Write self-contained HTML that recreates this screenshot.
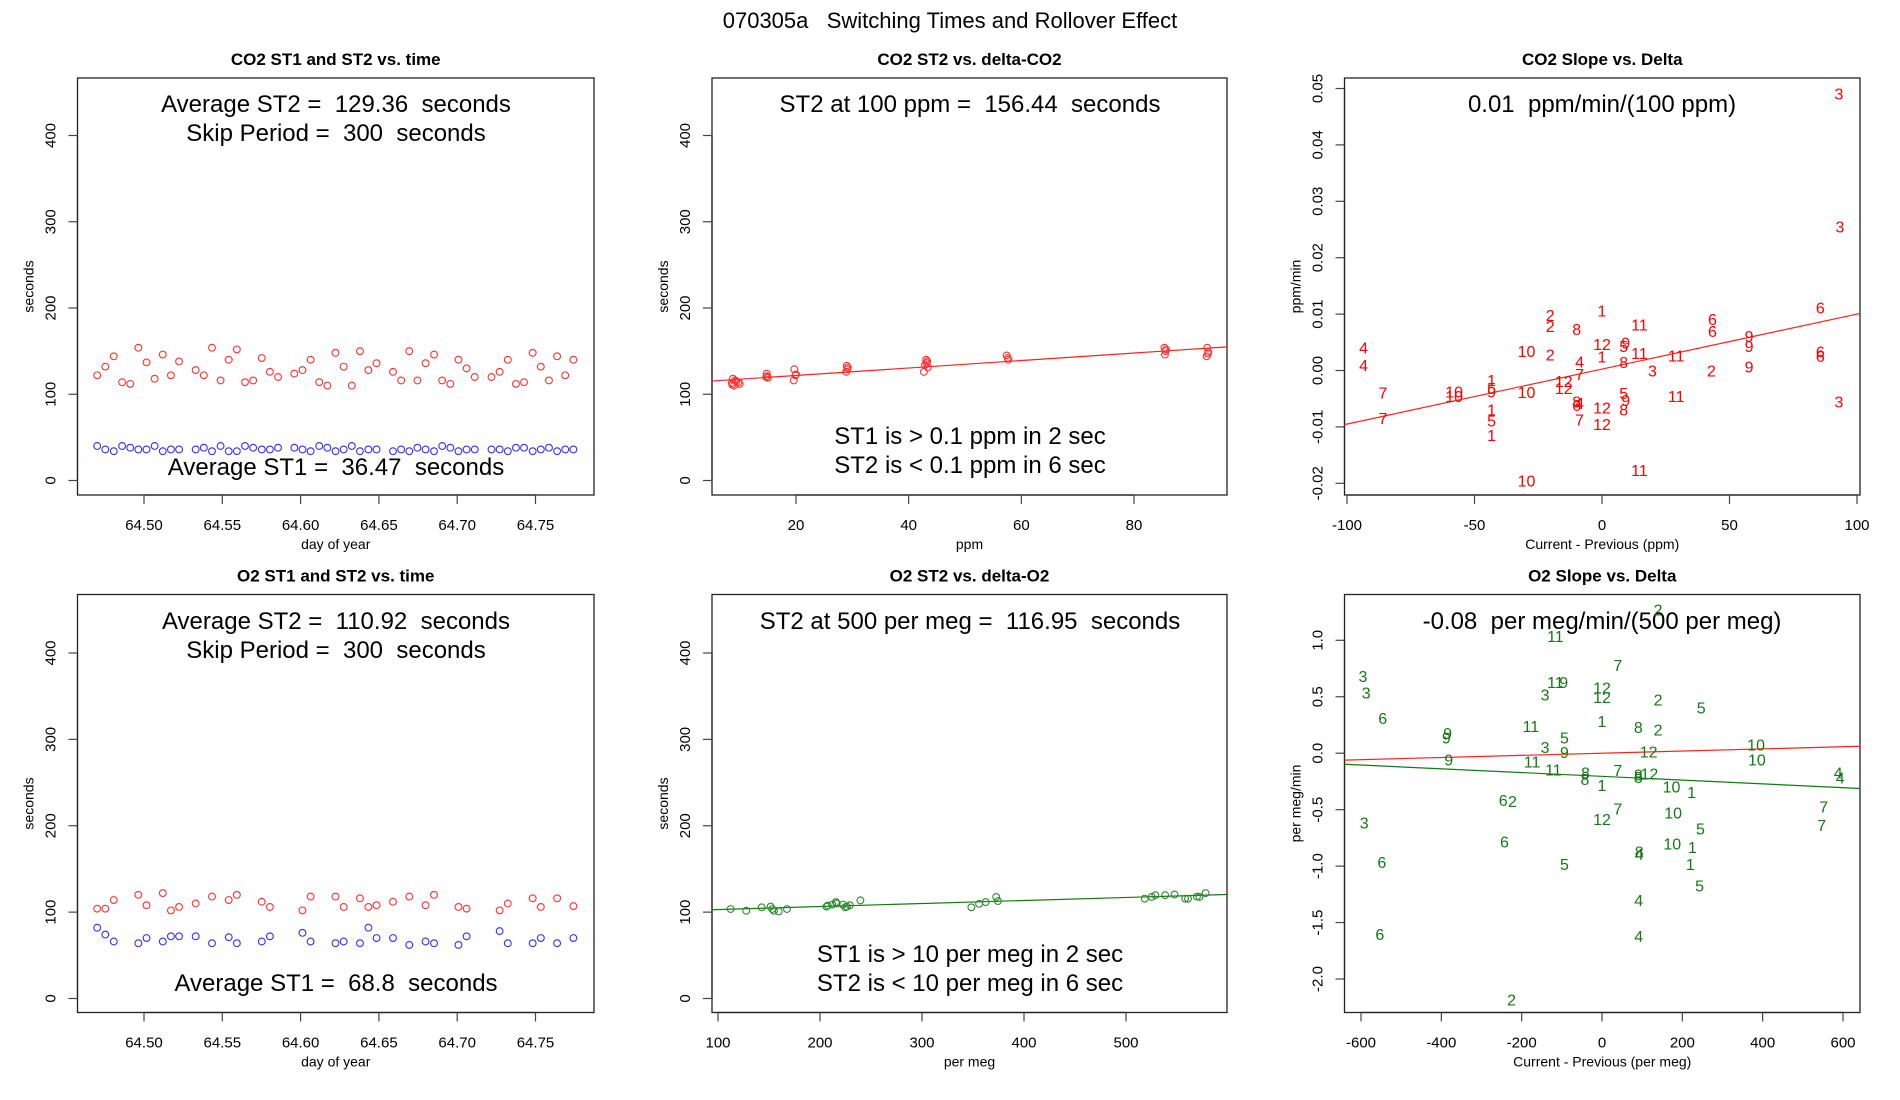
<!DOCTYPE html>
<html><head><meta charset="utf-8"><title>070305a Switching Times and Rollover Effect</title>
<style>
html,body{margin:0;padding:0;background:#fff;}
svg{display:block;font-family:"Liberation Sans",Arial,sans-serif;}
svg text{white-space:pre;}
</style></head>
<body>
<svg id="fig" width="1900" height="1100" viewBox="0 0 1900 1100" xmlns="http://www.w3.org/2000/svg">
<rect x="0" y="0" width="1900" height="1100" fill="#fff"/>
<text x="950" y="28" font-size="22" text-anchor="middle">070305a   Switching Times and Rollover Effect</text>
</svg>
<script>
// ---- Panel 1: CO2 ST1/ST2 vs time ----
const co2Time = [64.4701,64.4753,64.4807,64.4860,64.4912,64.4964,64.5016,64.5068,64.5120,64.5172,64.5224,64.5330,64.5382,64.5434,64.5489,64.5541,64.5593,64.5645,64.5697,64.5752,64.5804,64.5856,64.5960,64.6012,64.6064,64.6119,64.6171,64.6223,64.6275,64.6327,64.6379,64.6433,64.6485,64.6590,64.6642,64.6694,64.6746,64.6798,64.6852,64.6904,64.6956,64.7008,64.7060,64.7112,64.7219,64.7271,64.7323,64.7375,64.7427,64.7482,64.7534,64.7586,64.7638,64.7690,64.7742];
const co2ST2 = [122,132,144,114,112,154,137,118,146,122,138,128,122,154,116,140,152,114,116,142,126,120,124,128,140,114,110,148,132,110,150,128,136,126,116,150,116,136,146,116,112,140,130,120,120,126,140,112,114,148,132,116,144,122,140];
const co2ST1 = [40,36,34,40,38,36,36,40,34,36,36,36,38,34,40,34,34,40,38,36,36,38,38,36,34,40,38,34,36,40,34,36,36,34,36,34,38,36,34,40,38,34,36,36,36,36,34,38,38,34,36,38,34,36,36];
// ---- Panel 4: O2 ST1/ST2 vs time ----
const o2Time = [64.4701,64.4753,64.4807,64.4964,64.5016,64.5120,64.5172,64.5224,64.5330,64.5434,64.5541,64.5593,64.5752,64.5804,64.6012,64.6064,64.6223,64.6275,64.6379,64.6433,64.6485,64.6590,64.6694,64.6798,64.6852,64.7008,64.7060,64.7271,64.7323,64.7482,64.7534,64.7638,64.7742];
const o2ST2 = [104,104,114,120,108,122,102,106,110,118,114,120,112,106,102,118,118,106,116,106,108,112,118,108,120,106,104,102,110,116,106,116,107];
const o2ST1 = [82,74,66,64,70,66,72,72,72,64,71,64,66,72,76,66,64,66,64,82,70,70,62,66,64,62,72,78,64,64,70,64,70];
// ---- Panel 2: CO2 ST2 vs delta ----
const co2Delta = [8.6,8.8,9.0,9.2,9.8,10.0,9.4,8.7,14.8,14.9,15.0,14.7,19.7,19.9,19.6,20.0,29.0,29.1,28.9,29.2,43.1,43.3,42.9,43.4,42.7,43.2,57.4,57.6,57.7,85.4,85.6,85.5,85.7,93.0,93.2,92.9,93.1];
const co2DeltaST2 = [113,118,110,116,114,112,115,111,124,121,119,120,129,122,116,123,133,129,126,131,140,138,134,131,126,136,145,142,140,154,150,146,152,154,149,144,147];
const co2FitCoef = [113.1,0.4334];
// ---- Panel 5: O2 ST2 vs delta ----
const o2Delta = [112.4,127.6,142.8,151.6,153.2,154.8,159.6,167.6,206.4,207.6,212,215.6,216.4,222.4,224.8,226.4,229.2,239.6,348.4,356,362.4,372.8,374.4,518.4,525.2,528.8,538.4,547.6,558,560.8,569.6,572,578];
const o2DeltaST2 = [103.6,101.6,105.6,106.4,103.6,101.6,100.8,103.6,106.4,107.6,108.8,111.6,110,108.8,105.6,106.4,108,113.6,105.6,109.6,111.6,117.6,112.8,115.6,117.6,119.6,119.6,120.4,115.6,115.6,118,117.6,122];
const o2FitCoef = [99.5,0.0349];
// ---- Panel 3: CO2 slope vs delta ----
const co2SlopeLabels = ["3","3","6","6","11","2","2","1","8","6","9","12","9","5","9","4","10","11","11","2","1","6","6","4","8","4","9","3","2","7","1","12","12","5","9","10","10","10","7","5","11","9","8","4","6","3","12","8","1","7","7","5","12","1","11","10"];
const co2SlopeX = [92.9,93.3,85.6,43.3,14.7,-20.3,-20.3,0,-9.9,43.3,57.7,0,9.3,8.5,57.7,-93.5,-29.6,14.7,29.1,-20.3,0,85.6,85.6,-8.8,8.5,-93.5,57.7,19.8,42.9,-8.8,-43.3,-15,-15,-43.3,-43.3,-58,-58,-29.6,-85.9,8.5,29.1,9.3,-9.9,-8.8,-9.9,92.9,0,8.5,-43.3,-85.9,-8.8,-43.3,0,-43.3,14.7,-29.6];
const co2SlopeY = [0.0491,0.0255,0.0112,0.0091,0.0082,0.0098,0.0079,0.0106,0.0074,0.0070,0.0061,0.0047,0.0050,0.0043,0.0043,0.0041,0.0035,0.0031,0.0027,0.0028,0.0025,0.0034,0.0026,0.0016,0.0015,0.0010,0.0007,0.0,0.0,-0.0006,-0.0017,-0.0019,-0.0031,-0.0031,-0.0037,-0.0037,-0.0045,-0.0038,-0.0039,-0.0040,-0.0045,-0.0052,-0.0055,-0.0058,-0.0061,-0.0055,-0.0066,-0.0069,-0.0069,-0.0084,-0.0087,-0.0089,-0.0095,-0.0114,-0.0176,-0.0195];
const co2SlopeFit = [0.00025,0.0000975];
// ---- Panel 6: O2 slope vs delta ----
const o2SlopeLabels = ["2","11","7","3","11","9","12","3","3","12","2","5","6","1","11","8","2","9","9","5","3","10","12","9","9","10","11","11","8","7","4","8","12","4","8","8","1","10","1","6","2","7","7","10","12","3","7","5","6","10","1","8","4","6","5","1","5","4","4","6","2"];
const o2SlopeX = [139.7,-116,39.3,-595,-116,-95.4,0,-587,-141.6,0,139.7,246.9,-546,0,-177,90.5,139.7,-384.6,-387.5,-93.4,-141.6,383.6,116,-93.4,-381.6,385.6,-174,-121,-41.3,39.3,588,90.5,118,593,-42.3,90.5,0,173,223,-246,-223,552,39.3,177,0,-592,547,245,-243,175,225,92.5,92.5,-548,-93.4,220,243,91.5,91.5,-553,-225];
const o2SlopeY = [1.275,1.036,0.781,0.683,0.631,0.631,0.582,0.539,0.521,0.5,0.475,0.405,0.31,0.285,0.239,0.23,0.208,0.178,0.141,0.141,0.056,0.077,0.016,0.009,-0.058,-0.058,-0.073,-0.144,-0.169,-0.15,-0.169,-0.19,-0.181,-0.214,-0.23,-0.211,-0.282,-0.297,-0.343,-0.413,-0.425,-0.474,-0.49,-0.527,-0.582,-0.613,-0.634,-0.665,-0.781,-0.802,-0.833,-0.87,-0.895,-0.962,-0.981,-0.981,-1.171,-1.30,-1.62,-1.60,-2.18];
const o2SlopeFitRed = [0,0.0000953];
const o2SlopeFitGreen = [-0.205,-0.000167];
// tick arrays
const timeTicks = [64.50,64.55,64.60,64.65,64.70,64.75];
const timeTickLabels = ["64.50","64.55","64.60","64.65","64.70","64.75"];
const secTicks = [0,100,200,300,400];
const ppmTicks = [20,40,60,80];
const permegTicks = [100,200,300,400,500];
const co2DeltaTicks = [-100,-50,0,50,100];
const co2SlopeTicks = [-0.02,-0.01,0,0.01,0.02,0.03,0.04,0.05];
const co2SlopeTickLabels = ["-0.02","-0.01","0.00","0.01","0.02","0.03","0.04","0.05"];
const o2DeltaTicks = [-600,-400,-200,0,200,400,600];
const o2SlopeTicks = [-2.0,-1.5,-1.0,-0.5,0,0.5,1.0];
const o2SlopeTickLabels = ["-2.0","-1.5","-1.0","-0.5","0.0","0.5","1.0"];

const NS = "http://www.w3.org/2000/svg";
const svg = document.getElementById('fig');
function mk(tag, attrs, parent){ const e=document.createElementNS(NS,tag); for(const k in attrs) e.setAttribute(k,attrs[k]); (parent||svg).appendChild(e); return e; }
function lin(d0,d1,p0,p1){ return v => p0 + (v-d0)*(p1-p0)/(d1-d0); }

const GREEN = "#137a13";

function panel(o){
  const g = mk('g',{});
  
  
  const t = mk('text',{x:(o.L+o.R)/2, y:o.T-13, 'font-size':17,'font-weight':'bold','text-anchor':'middle'}, g);
  t.textContent = o.title;
  
  
  const box = mk('rect',{x:o.L,y:o.T,width:o.R-o.L,height:o.B-o.T,fill:'none',stroke:'#222','stroke-width':1.3}, g);
  
  
  const xa = mk('g',{}, g);
  
  
  const xs = o.xticks.map(o.sx);
  mk('line',{x1:xs[0],x2:xs[xs.length-1],y1:o.B,y2:o.B,stroke:'#222','stroke-width':1.2}, xa);
  o.xticks.forEach((v,i)=>{
    mk('line',{x1:xs[i],x2:xs[i],y1:o.B,y2:o.B+9,stroke:'#444','stroke-width':1.2}, xa);
    const tl = mk('text',{x:xs[i],y:o.B+35,'font-size':15,'text-anchor':'middle'}, xa);
    tl.textContent = o.xlabels ? o.xlabels[i] : String(v);
    
    
  });
  const xt = mk('text',{x:(o.L+o.R)/2,y:o.B+54,'font-size':14,'text-anchor':'middle'}, g);
  xt.textContent = o.xtitle;
  
  
  const ya = mk('g',{}, g);
  
  
  const ys = o.yticks.map(o.sy);
  mk('line',{x1:o.L,x2:o.L,y1:ys[0],y2:ys[ys.length-1],stroke:'#222','stroke-width':1.2}, ya);
  o.yticks.forEach((v,i)=>{
    mk('line',{x1:o.L-9,x2:o.L,y1:ys[i],y2:ys[i],stroke:'#444','stroke-width':1.2}, ya);
    const lx = o.L-22;
    const tl = mk('text',{x:lx,y:ys[i],'font-size':15,'text-anchor':'middle',transform:`rotate(-90 ${lx} ${ys[i]})`}, ya);
    tl.textContent = o.ylabels ? o.ylabels[i] : String(v);
    
    
  });
  const ytx = o.L-44, ytY=(o.T+o.B)/2;
  const yt = mk('text',{x:ytx,y:ytY,'font-size':14,'text-anchor':'middle',transform:`rotate(-90 ${ytx} ${ytY})`}, g);
  yt.textContent = o.ytitle;
  
  
  return g;
}
function note(g, x, y, txt){
  const t = mk('text',{x:x,y:y+8,'font-size':24,'text-anchor':'middle'}, g);
  t.textContent = txt;
  
  
}
function circles(g, X, Y, sx, sy, color, name){
  const grp = mk('g',{}, g);
  
  
  X.forEach((x,i)=>{
    const c = mk('circle',{cx:sx(x),cy:sy(Y[i]),r:3.4,fill:'none',stroke:color,'stroke-width':1.1}, grp);
    
    
  });
}
function labels(g, L, X, Y, sx, sy, color, name){
  const grp = mk('g',{}, g);
  
  
  L.forEach((s,i)=>{
    const t = mk('text',{x:sx(X[i]),y:sy(Y[i])+6,'font-size':16,'text-anchor':'middle',fill:color}, grp);
    t.textContent = s;
    
    
  });
}
function fitline(g, coef, x0, x1, sx, sy, color, name){
  const l = mk('line',{x1:sx(x0),y1:sy(coef[0]+coef[1]*x0),x2:sx(x1),y2:sy(coef[0]+coef[1]*x1),stroke:color,'stroke-width':1.2}, g);
  
  
}

const TOP = {T:78,B:495}, BOT = {T:594.5,B:1012.5};
const C1 = {L:77.5,R:594}, C2 = {L:712,R:1227}, C3 = {L:1344.5,R:1860};
const sxTime = lin(64.50,64.75,144,535.5);
const sySecTop = lin(0,400,480.5,135.5);
const sySecBot = lin(0,400,998.5,653);

{
  const sx=sxTime, sy=sySecTop;
  const g = panel({name:'panel-co2-time',title:'CO2 ST1 and ST2 vs. time',L:C1.L,R:C1.R,T:TOP.T,B:TOP.B,sx,sy,xticks:timeTicks,xlabels:timeTickLabels,yticks:secTicks,xtitle:'day of year',ytitle:'seconds'});
  circles(g, co2Time, co2ST2, sx, sy, '#ff3030', 'series-st2');
  circles(g, co2Time, co2ST1, sx, sy, '#3030ff', 'series-st1');
  note(g, 336, 104, 'Average ST2 =  129.36  seconds');
  note(g, 336, 133, 'Skip Period =  300  seconds');
  note(g, 336, 467, 'Average ST1 =  36.47  seconds');
}
{
  const sx=sxTime, sy=sySecBot;
  const g = panel({name:'panel-o2-time',title:'O2 ST1 and ST2 vs. time',L:C1.L,R:C1.R,T:BOT.T,B:BOT.B,sx,sy,xticks:timeTicks,xlabels:timeTickLabels,yticks:secTicks,xtitle:'day of year',ytitle:'seconds'});
  circles(g, o2Time, o2ST2, sx, sy, '#ff3030', 'series-st2');
  circles(g, o2Time, o2ST1, sx, sy, '#3030ff', 'series-st1');
  note(g, 336, 621, 'Average ST2 =  110.92  seconds');
  note(g, 336, 650, 'Skip Period =  300  seconds');
  note(g, 336, 983, 'Average ST1 =  68.8  seconds');
}
{
  const sx=lin(20,80,796,1134), sy=sySecTop;
  const g = panel({name:'panel-co2-st2-delta',title:'CO2 ST2 vs. delta-CO2',L:C2.L,R:C2.R,T:TOP.T,B:TOP.B,sx,sy,xticks:ppmTicks,yticks:secTicks,xtitle:'ppm',ytitle:'seconds'});
  fitline(g, co2FitCoef, 5.0, 96.5, sx, sy, '#ff2020', 'fit-line');
  circles(g, co2Delta, co2DeltaST2, sx, sy, '#ff3030', 'series-st2');
  note(g, 970, 104, 'ST2 at 100 ppm =  156.44  seconds');
  note(g, 970, 436, 'ST1 is > 0.1 ppm in 2 sec');
  note(g, 970, 465, 'ST2 is < 0.1 ppm in 6 sec');
}
{
  const sx=lin(100,500,718,1126), sy=sySecBot;
  const g = panel({name:'panel-o2-st2-delta',title:'O2 ST2 vs. delta-O2',L:C2.L,R:C2.R,T:BOT.T,B:BOT.B,sx,sy,xticks:permegTicks,yticks:secTicks,xtitle:'per meg',ytitle:'seconds'});
  fitline(g, o2FitCoef, 94, 598.5, sx, sy, GREEN, 'fit-line');
  circles(g, o2Delta, o2DeltaST2, sx, sy, '#2a8a2a', 'series-st2');
  note(g, 970, 621, 'ST2 at 500 per meg =  116.95  seconds');
  note(g, 970, 954, 'ST1 is > 10 per meg in 2 sec');
  note(g, 970, 983, 'ST2 is < 10 per meg in 6 sec');
}
{
  const sx=lin(-100,100,1347,1857), sy=lin(0,0.05,370.5,88.5);
  const g = panel({name:'panel-co2-slope',title:'CO2 Slope vs. Delta',L:C3.L,R:C3.R,T:TOP.T,B:TOP.B,sx,sy,xticks:co2DeltaTicks,yticks:co2SlopeTicks,ylabels:co2SlopeTickLabels,xtitle:'Current - Previous (ppm)',ytitle:'ppm/min'});
  fitline(g, co2SlopeFit, -101, 101.2, sx, sy, '#ff2020', 'fit-line');
  labels(g, co2SlopeLabels, co2SlopeX, co2SlopeY, sx, sy, '#ff0000', 'slope-labels');
  note(g, 1602, 104, '0.01  ppm/min/(100 ppm)');
}
{
  const sx=lin(-600,600,1361,1843), sy=lin(0,1.0,753.2,640.3);
  const g = panel({name:'panel-o2-slope',title:'O2 Slope vs. Delta',L:C3.L,R:C3.R,T:BOT.T,B:BOT.B,sx,sy,xticks:o2DeltaTicks,yticks:o2SlopeTicks,ylabels:o2SlopeTickLabels,xtitle:'Current - Previous (per meg)',ytitle:'per meg/min'});
  note(g, 1602, 621, '-0.08  per meg/min/(500 per meg)');
  fitline(g, o2SlopeFitRed, -641, 643, sx, sy, '#ff2020', 'fit-line-red');
  fitline(g, o2SlopeFitGreen, -641, 643, sx, sy, GREEN, 'fit-line-green');
  labels(g, o2SlopeLabels, o2SlopeX, o2SlopeY, sx, sy, GREEN, 'slope-labels');
}
</script>
</body></html>
